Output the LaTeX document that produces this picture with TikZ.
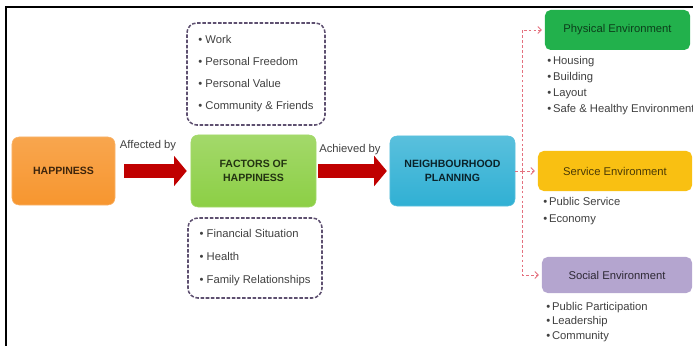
\documentclass[tikz,border=0pt]{standalone}
\usepackage{fontspec}
\setmainfont{Liberation Sans}
\usetikzlibrary{arrows.meta,positioning}

\definecolor{happyorange}{HTML}{F7962F}
\definecolor{factorgreen}{HTML}{8CCF45}
\definecolor{planblue}{HTML}{30B0D4}
\definecolor{physgreen}{HTML}{22B14C}
\definecolor{servyellow}{HTML}{F9C012}
\definecolor{socialpurple}{HTML}{B4A5CF}
\definecolor{arrowred}{HTML}{C00000}
\definecolor{framepurple}{HTML}{5E5070}
\definecolor{linkpink}{HTML}{E4707E}
\definecolor{itemgray}{HTML}{404040}

\tikzset{
  mainbox/.style={rounded corners=5pt, inner sep=2pt, align=center,
    font=\fontsize{7.5}{9.5}\selectfont\bfseries},
  envbox/.style={rounded corners=4pt, inner sep=2pt,
    font=\fontsize{8}{9}\selectfont},
  factorlist/.style={draw=framepurple, line width=1.1pt, dash pattern=on 2.5pt off 1.2pt,
    rounded corners=7pt, align=left, text=itemgray, inner sep=0pt},
  itemlist/.style={align=left, text=itemgray, inner sep=0pt, anchor=north west},
  bigarrow/.style={draw=arrowred, line width=10.6pt,
    -{Triangle[width=21pt,length=9pt]}},
  branchline/.style={draw=linkpink, line width=0.6pt, dash pattern=on 2pt off 1.5pt},
  arrowlabel/.style={font=\fontsize{8}{9}\selectfont, text=itemgray, inner sep=0pt}
}

\begin{document}
\begin{tikzpicture}[x=0.025cm, y=-0.025cm]
  \useasboundingbox (0,0) rectangle (693,346);
  \draw[line width=1.5pt] (6,346) -- (6,7) -- (693,7);

  % main chain
  \node[mainbox, minimum width=2.575cm, minimum height=1.7cm, top color=happyorange!85!white,
    bottom color=happyorange, draw=happyorange!70!white, text=happyorange!25!black] (happy) at (63.5,171) {HAPPINESS};
  \node[mainbox, minimum width=3.125cm, minimum height=1.8cm, top color=factorgreen!80!white,
    bottom color=factorgreen, draw=factorgreen!80!white, text=factorgreen!25!black] (factors) at (253.5,171) {FACTORS OF\\HAPPINESS};
  \node[mainbox, minimum width=3.125cm, minimum height=1.75cm, top color=planblue!80!white,
    bottom color=planblue, draw=planblue!80!white, text=planblue!20!black] (plan) at (452.5,171) {NEIGHBOURHOOD\\PLANNING};

  \draw[bigarrow, shorten <=6.4pt, shorten >=2.8pt] (happy.east) -- (factors.west);
  \draw[bigarrow, shorten <=1.4pt, shorten >=2pt] (factors.east) -- (plan.west);
  \node[arrowlabel] (affected) at (148,146) {Affected by};
  \node[arrowlabel] (achieved) at (350,150) {Achieved by};

  % factor lists
  \node[factorlist, minimum width=3.45cm, minimum height=2.55cm,
    font=\fontsize{8}{15.6}\selectfont] (personal) at (256,74)
    {\textbullet\ Work\\\textbullet\ Personal Freedom\\\textbullet\ Personal Value\\\textbullet\ Community \& Friends};
  \node[factorlist, minimum width=3.35cm, minimum height=2cm,
    font=\fontsize{8}{16.3}\selectfont] (external) at (255,258)
    {\textbullet\ Financial Situation\\\textbullet\ Health\\\textbullet\ Family Relationships};

  % environments
  \node[envbox, minimum width=3.625cm, minimum height=1cm, fill=physgreen, text=physgreen!35!black] (phys) at (617.5,30) {Physical Environment};
  \node[envbox, minimum width=3.85cm, minimum height=1cm, fill=servyellow, text=servyellow!30!black] (serv) at (615,171) {Service Environment};
  \node[envbox, minimum width=3.75cm, minimum height=0.9cm, fill=socialpurple, text=socialpurple!25!black] (social) at (617,275) {Social Environment};

  \node[itemlist, font=\fontsize{8}{11.3}\selectfont] (physitems) at (547,56)
    {\textbullet\,Housing\\\textbullet\,Building\\\textbullet\,Layout\\\textbullet\,Safe \& Healthy Environment};
  \node[itemlist, font=\fontsize{8}{12}\selectfont] (servitems) at (543,197)
    {\textbullet\,Public Service\\\textbullet\,Economy};
  \node[itemlist, font=\fontsize{8}{10.3}\selectfont] (socialitems) at (546,302)
    {\textbullet\,Public Participation\\\textbullet\,Leadership\\\textbullet\,Community};

  % branch links
  \coordinate (branch) at (522,171);
  \draw[branchline] (plan.east) -- (branch);
  \draw[branchline, -{Straight Barb[length=2.5pt,width=5pt]}, shorten >=2pt] (branch) |- (phys.west);
  \draw[branchline, -{Straight Barb[length=2.5pt,width=5pt]}, shorten >=2pt] (branch) -- (serv.west);
  \draw[branchline, -{Straight Barb[length=2.5pt,width=5pt]}, shorten >=2pt] (branch) |- (social.west);
\end{tikzpicture}
\end{document}
